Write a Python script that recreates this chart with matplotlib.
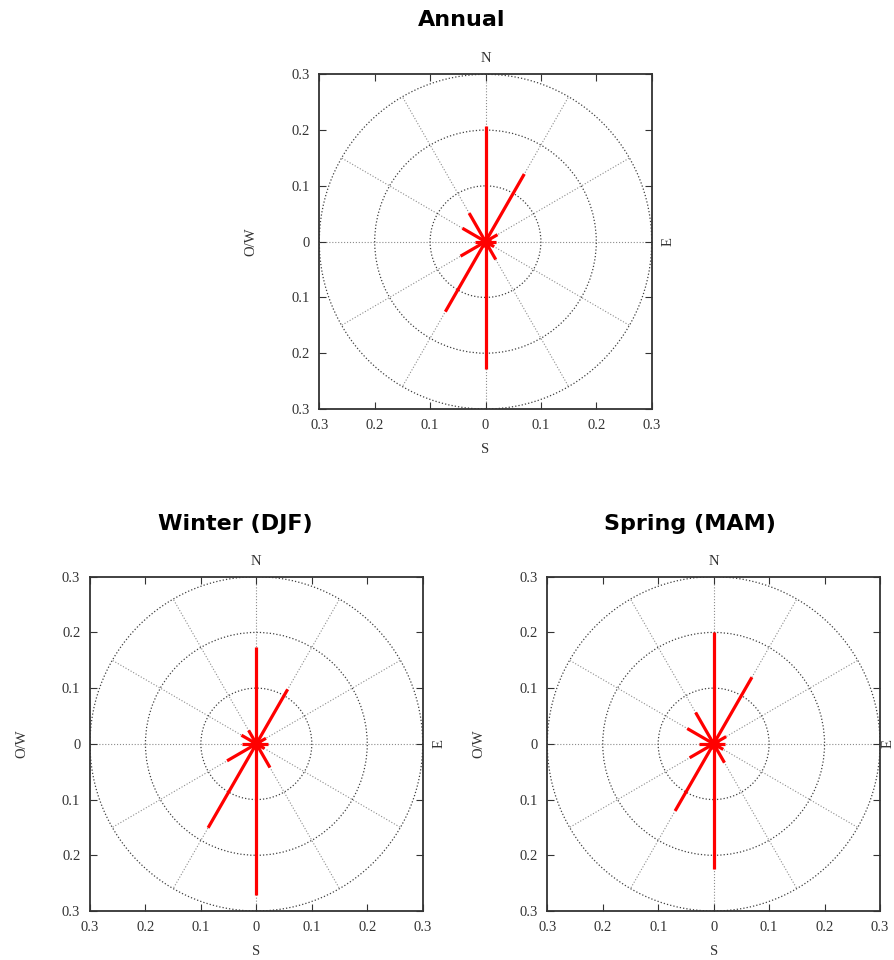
import numpy as np
import matplotlib
matplotlib.use('Agg')
import matplotlib.pyplot as plt
from matplotlib.patches import Circle

# Wind direction (degrees from north) and relative frequency per direction
directions = [0, 30, 60, 90, 120, 150, 180, 210, 240, 270, 300, 330]
annual = [0.207, 0.140, 0.025, 0.019, 0.018, 0.037, 0.229, 0.145, 0.052, 0.019, 0.048, 0.059]
winter = [0.173, 0.113, 0.020, 0.021, 0.017, 0.049, 0.272, 0.174, 0.061, 0.026, 0.031, 0.028]
spring = [0.200, 0.138, 0.026, 0.020, 0.020, 0.039, 0.225, 0.139, 0.050, 0.027, 0.055, 0.065]

rings = [0.1, 0.2, 0.3]
ticks = [-0.3, -0.2, -0.1, 0, 0.1, 0.2, 0.3]
tick_labels = ['0.3', '0.2', '0.1', '0', '0.1', '0.2', '0.3']

serif = 'Liberation Serif'

fig = plt.figure(figsize=(8.94, 9.6), dpi=100)


def rose(ax, values, east_x=1.05):
    # grid: radial spokes and rings
    for d in directions:
        t = np.radians(d)
        ax.plot([0, 0.3 * np.sin(t)], [0, 0.3 * np.cos(t)], color='0.55',
                ls=':', lw=0.8, zorder=1)
    for r in rings:
        ax.add_patch(Circle((0, 0), r, fill=False, ec='0.25', ls=':', lw=0.9, zorder=1))

    # the rose itself
    for d, v in zip(directions, values):
        t = np.radians(d)
        ax.plot([0, v * np.sin(t)], [0, v * np.cos(t)], color='red', lw=2.3,
                solid_capstyle='butt', zorder=3)
    ax.plot(0, 0, 'o', color='red', ms=7, zorder=4)

    ax.set_xlim(-0.3, 0.3)
    ax.set_ylim(-0.3, 0.3)
    ax.set_xticks(ticks)
    ax.set_yticks(ticks)
    ax.set_xticklabels(tick_labels, fontfamily=serif, fontsize=10.5, color='0.2')
    ax.set_yticklabels(tick_labels, fontfamily=serif, fontsize=10.5, color='0.2')
    ax.tick_params(direction='in', length=5, width=0.8, top=True, right=True,
                   pad=7, color='0.2')
    for s in ax.spines.values():
        s.set_linewidth(1.3)
        s.set_color('0.2')

    ax.text(0.5, 1.046, 'N', transform=ax.transAxes, ha='center', va='center',
            fontfamily=serif, fontsize=10.5, color='0.2')
    ax.text(0.5, -0.12, 'S', transform=ax.transAxes, ha='center', va='center',
            fontfamily=serif, fontsize=10.5, color='0.2')
    ax.text(-0.205, 0.5, 'O/W', transform=ax.transAxes, ha='center', va='center',
            rotation=90, fontfamily=serif, fontsize=10.5, color='0.2')
    ax.text(east_x, 0.5, 'E', transform=ax.transAxes, ha='center', va='center',
            rotation=90, fontfamily=serif, fontsize=10.5, color='0.2')


W, H = 894, 960
ax1 = fig.add_axes([319.3 / W, 1 - 409 / H, 332.4 / W, 334.7 / H])
ax2 = fig.add_axes([90 / W, 1 - 911 / H, 332.7 / W, 334.3 / H])
ax3 = fig.add_axes([547.3 / W, 1 - 911 / H, 332.7 / W, 334.3 / H])

rose(ax1, annual)
rose(ax2, winter)
rose(ax3, spring, east_x=1.025)  # squeezed in at the right edge of the figure

title_kw = dict(ha='center', va='center', fontsize=16, fontweight='bold',
                fontfamily='DejaVu Sans')
fig.text(462 / W, 1 - 20 / H, 'Annual', **title_kw)
fig.text(235 / W, 1 - 524 / H, 'Winter (DJF)', **title_kw)
fig.text(690 / W, 1 - 524 / H, 'Spring (MAM)', **title_kw)

fig.savefig('out.png', dpi=100)
